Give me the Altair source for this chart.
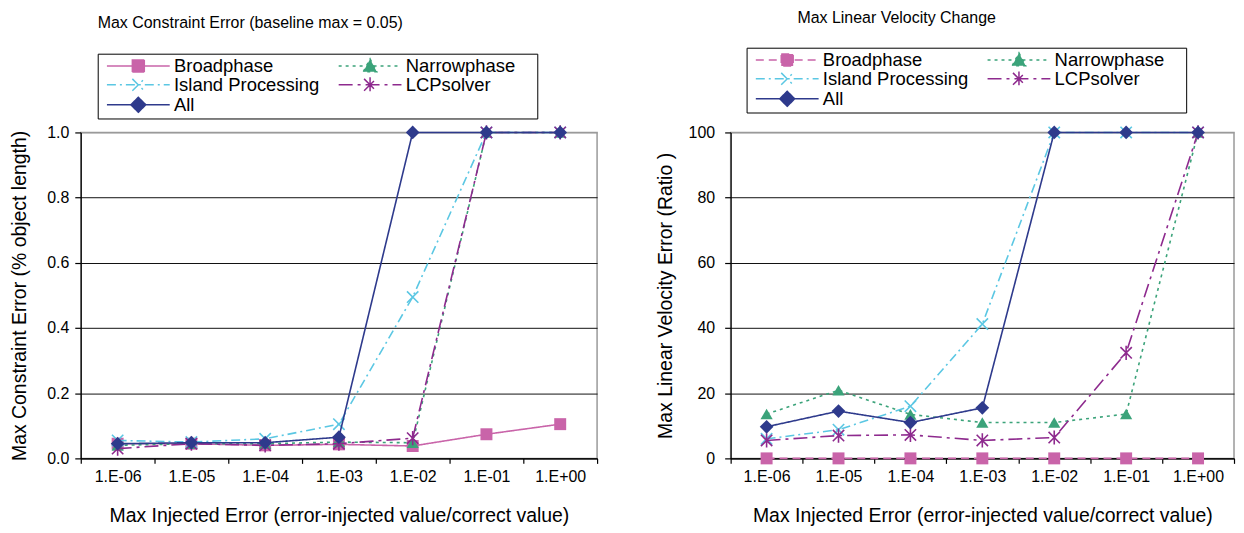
import altair as alt
import pandas as pd

FONT = "Liberation Sans"

categories = ["1.E-06", "1.E-05", "1.E-04", "1.E-03", "1.E-02", "1.E-01", "1.E+00"]
series_names = ["Broadphase", "Narrowphase", "Island Processing", "LCPsolver", "All"]
# legend entries are laid out column by column (3 rows x 2 columns)
legend_order = ["Broadphase", "Island Processing", "All", "Narrowphase", "LCPsolver"]

# Left panel: Max Constraint Error (% object length)
c_broadphase = [0.045, 0.045, 0.040, 0.043, 0.038, 0.074, 0.105]
c_narrowphase = [0.040, 0.045, 0.045, 0.050, 0.048, 1.0, 1.0]
c_island = [0.055, 0.050, 0.060, 0.105, 0.495, 1.0, 1.0]
c_lcp = [0.030, 0.045, 0.040, 0.045, 0.062, 1.0, 1.0]
c_all = [0.045, 0.048, 0.048, 0.065, 1.0, 1.0, 1.0]

# Right panel: Max Linear Velocity Error (Ratio)
v_broadphase = [0, 0, 0, 0, 0, 0, 0]
v_narrowphase = [13.6, 20.9, 13.5, 11.0, 11.0, 13.6, 100]
v_island = [6.0, 8.8, 16.0, 41.2, 100, 100, 100]
v_lcp = [5.5, 7.0, 7.2, 5.5, 6.4, 32.4, 100]
v_all = [9.7, 14.5, 11.0, 15.5, 100, 100, 100]

colors = ["#C964A9", "#3BA37A", "#5BC7E3", "#8E2A8E", "#2E3A8C"]

SOLID = [1, 0]
dash_left = [SOLID, [3, 4], [9, 4, 2, 4], [14, 5, 3, 5], SOLID]
dash_right = [[8, 5], [3, 4], [9, 4, 2, 4], [14, 5, 3, 5], SOLID]

X_PATH = "M-1,-1L1,1M-1,1L1,-1"
AST_PATH = "M-1,-1L1,1M-1,1L1,-1M0,-1.25L0,1.25"
marker_shapes = ["square", "triangle-up", X_PATH, AST_PATH, "diamond"]
marker_filled = [True, True, False, False, True]
marker_sizes = [144, 150, 130, 130, 190]

# legend glyphs: line segment with the marker in the middle
legend_paths = [
    "M-5.2,0M-4.2,0H4.2M-0.8,-0.8H0.8V0.8H-0.8Z",
    "M-5.2,0M-4.2,0H4.2M0,-0.95L0.9,0.75H-0.9ZM21.5,0",
    "M-5.2,0M-4.2,0H4.2M-0.8,-0.8L0.8,0.8M-0.8,0.8L0.8,-0.8",
    "M-5.2,0M-4.2,0H4.2M-0.8,-0.8L0.8,0.8M-0.8,0.8L0.8,-0.8M0,-1L0,1M21.5,0",
    "M-5.2,0M-4.2,0H4.2M0,-1L1,0L0,1L-1,0Z",
]

X_TITLE = "Max Injected Error (error-injected value/correct value)"


def reorder(lst):
    return [lst[series_names.index(n)] for n in legend_order]


def panel(values, dashes, ydomain, yvalues, yformat, ytitle, title, title_dx,
          title_offset, lx, ly, width, height, label_pad, title_pad):
    top = ydomain[1]
    xaxis = alt.Axis(title=X_TITLE, labelAngle=0, tickBand="extent", tickSize=5,
                     labelPadding=5, titlePadding=22, labelFontSize=16,
                     titleFontSize=19.5, grid=False)
    yaxis = alt.Axis(title=ytitle, values=yvalues, format=yformat, tickSize=6,
                     labelPadding=label_pad, titlePadding=title_pad,
                     labelFontSize=16, titleFontSize=19.5, grid=True,
                     gridColor={"condition": {"test": f"datum.value >= {top * 0.999}",
                                              "value": "#9a9a9a"},
                                "value": "#111111"},
                     gridWidth=1)
    x = alt.X("cat:N", sort=categories,
              scale=alt.Scale(type="band", paddingInner=0, paddingOuter=0),
              axis=xaxis)
    y = alt.Y("value:Q", scale=alt.Scale(domain=ydomain, nice=False, zero=True),
              axis=yaxis)
    layers = []
    for i, name in enumerate(series_names):
        df = pd.DataFrame({"cat": categories, "value": values[i], "series": name})
        base = alt.Chart(df)
        layers.append(base.mark_line(color=colors[i], strokeWidth=1.6,
                                     strokeDash=dashes[i]).encode(x=x, y=y))
        layers.append(base.mark_point(shape=marker_shapes[i], filled=marker_filled[i],
                                      size=marker_sizes[i], color=colors[i],
                                      strokeWidth=1.6, opacity=1).encode(x=x, y=y))
    legend = alt.Legend(orient="none", legendX=lx, legendY=ly, columns=2, title=None,
                        strokeColor="black", fillColor="white", padding=3,
                        labelFont=FONT, labelFontSize=18.5, labelColor="black",
                        symbolSize=225, symbolStrokeWidth=1.5, symbolOffset=28.5,
                        labelOffset=26.5, rowPadding=-2, columnPadding=7.5,
                        labelLimit=400)
    leg_df = pd.DataFrame({"series": legend_order})
    leg_layer = alt.Chart(leg_df).transform_filter("false").mark_point(
        filled=True, opacity=1).encode(
        fill=alt.Fill("series:N", scale=alt.Scale(domain=legend_order, range=reorder(colors)),
                      legend=legend),
        stroke=alt.Stroke("series:N", scale=alt.Scale(domain=legend_order, range=reorder(colors)),
                          legend=legend),
        shape=alt.Shape("series:N", scale=alt.Scale(domain=legend_order,
                                                    range=reorder(legend_paths)),
                        legend=legend),
        strokeDash=alt.StrokeDash("series:N",
                                  scale=alt.Scale(domain=legend_order, range=reorder(dashes)),
                                  legend=legend),
    )
    layers.append(leg_layer)
    return alt.layer(*layers).properties(
        width=width, height=height,
        title=alt.Title(title, anchor="start", frame="group", dx=title_dx,
                        offset=title_offset, fontSize=16, font=FONT,
                        fontWeight="normal", color="black"))


left = panel([c_broadphase, c_narrowphase, c_island, c_lcp, c_all], dash_left,
             [0, 1], [0, 0.2, 0.4, 0.6, 0.8, 1.0], ".1f",
             "Max Constraint Error (% object length)",
             "Max Constraint Error (baseline max = 0.05)", 17, 22, 17, -79,
             518, 327, 6, 17.5)
right = panel([v_broadphase, v_narrowphase, v_island, v_lcp, v_all], dash_right,
              [0, 100], [0, 20, 40, 60, 80, 100], "d",
              "Max Linear Velocity Error (Ratio )",
              "Max Linear Velocity Change", 67, 21, 16, -85,
              505, 327, 10, 13)

chart = alt.hconcat(left, right, spacing=55).resolve_scale(
    x="independent", y="independent", fill="independent", stroke="independent",
    shape="independent", strokeDash="independent"
).resolve_legend(
    fill="independent", stroke="independent", shape="independent",
    strokeDash="independent"
).configure(padding=0, font=FONT).configure_view(
    stroke="#9a9a9a", strokeWidth=1.5
).configure_axis(
    labelFont=FONT, titleFont=FONT, labelColor="black", titleColor="black",
    titleFontWeight="normal", domainColor="black", tickColor="black",
    domainWidth=1.2, tickWidth=1.2
)

chart.save("out.html", embed_options={"renderer": "svg", "actions": False})
